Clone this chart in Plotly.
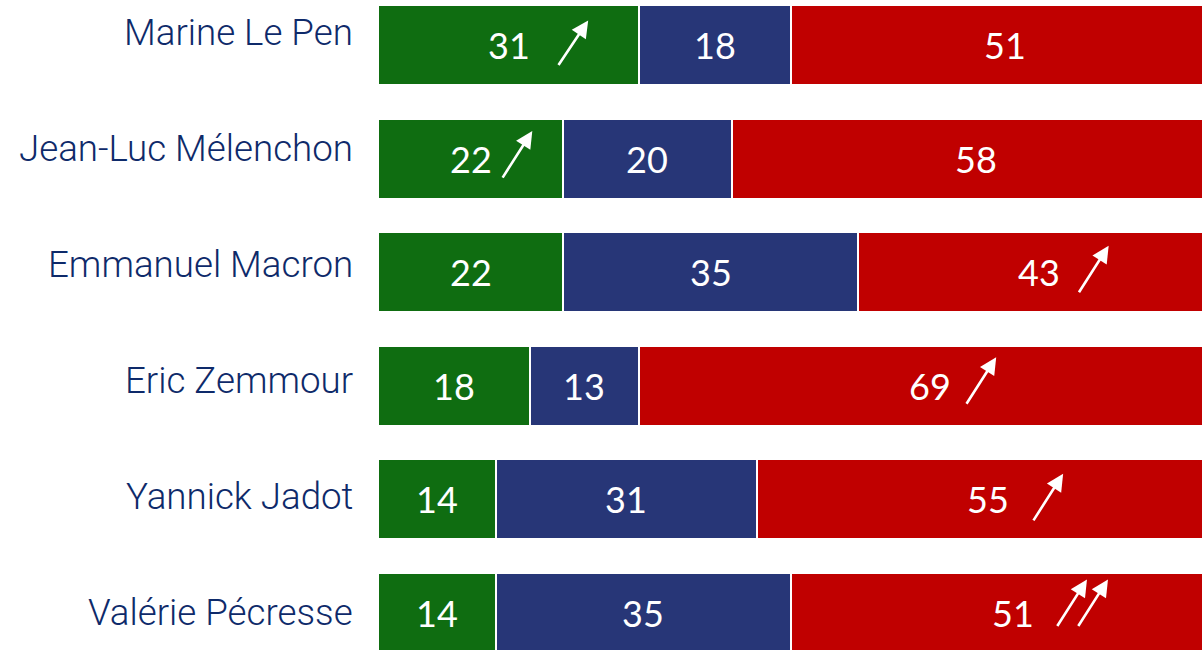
import plotly.graph_objects as go

# Survey results per personality (percent)
candidates = ["Marine Le Pen", "Jean-Luc Mélenchon", "Emmanuel Macron",
              "Eric Zemmour", "Yannick Jadot", "Valérie Pécresse"]
green_vals = [31, 22, 22, 18, 14, 14]
blue_vals = [18, 20, 35, 13, 31, 35]
red_vals = [51, 58, 43, 69, 55, 51]

# Upward trend markers: (row, series, number of arrows)
trends = [(0, "green", 1), (1, "green", 1), (2, "red", 1),
          (3, "red", 1), (4, "red", 1), (5, "red", 2)]

COLORS = {"green": "#0F6D11", "blue": "#273677", "red": "#C00000"}
NAVY = "#0E2A6A"

series = [("green", green_vals), ("blue", blue_vals), ("red", red_vals)]
rows = list(range(len(candidates)))

fig = go.Figure()
for name, vals in series:
    fig.add_trace(go.Bar(
        y=rows, x=vals, orientation="h", name=name,
        marker=dict(color=COLORS[name], line=dict(color="white", width=2)),
        width=0.704, hoverinfo="skip", showlegend=False,
    ))
fig.update_layout(barmode="stack")

annotations = []

# Segment centres, used for value labels and trend arrows
centers = {}
for i in rows:
    base = 0
    for name, vals in series:
        v = vals[i]
        centers[(i, name)] = base + v / 2
        base += v

label_shift = {(5, "red"): 8}
for i in rows:
    for name, vals in series:
        annotations.append(dict(
            x=centers[(i, name)], y=i, xref="x", yref="y",
            text=str(vals[i]), showarrow=False,
            xshift=label_shift.get((i, name), 0),
            font=dict(family="Lato", size=36, color="white"),
        ))

# Arrow tail offsets (px) from the segment centre; heads point up-right
arrow_offset = {0: (50, -20), 1: (32, -19), 2: (40, -20),
                3: (37, -18), 4: (45, -21), 5: (52, -13)}
for row, name, count in trends:
    dx, dy = arrow_offset[row]
    for k in range(count):
        annotations.append(dict(
            x=centers[(row, name)], y=row, xref="x", yref="y",
            xshift=dx + 21 * k, yshift=dy, text="",
            showarrow=True, arrowhead=2, arrowsize=1.1, arrowwidth=2.6,
            arrowside="start", startarrowhead=2, startarrowsize=1.3,
            arrowcolor="white", ax=30, ay=-47,
            standoff=0, startstandoff=0, borderpad=0,
            font=dict(size=1),
        ))

# Candidate names on the left
for i, name in enumerate(candidates):
    y_px = 33 + 116 * i
    annotations.append(dict(
        x=0, y=(y_px - 45) / 113.6, xref="paper", yref="y",
        xanchor="right", xshift=-23, text=name, showarrow=False,
        font=dict(family="Roboto", size=36.7, color=NAVY, weight=300),
    ))

fig.update_layout(
    width=1202, height=650,
    margin=dict(l=378, r=0, t=0, b=0),
    paper_bgcolor="white", plot_bgcolor="white",
    xaxis=dict(range=[0, 97.86], visible=False, fixedrange=True),
    yaxis=dict(range=[5.326, -0.396], visible=False, fixedrange=True),
    annotations=annotations,
)

fig.write_html("out.html")
